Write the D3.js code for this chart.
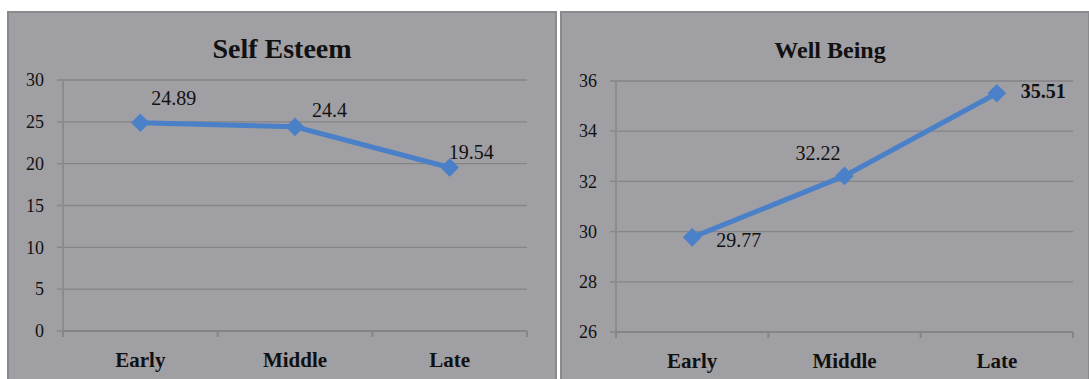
<!DOCTYPE html>
<html>
<head>
<meta charset="utf-8">
<script src="https://cdn.jsdelivr.net/npm/d3@7"></script>
<style>
  body { margin: 0; background: #fff; }
  text { font-family: "Liberation Serif", "Times New Roman", serif; fill: #111; }
</style>
</head>
<body>
<div id="chart"></div>
<script>
// Data
const stages = ["Early", "Middle", "Late"];
const selfEsteem = [24.89, 24.4, 19.54];
const wellBeing = [29.77, 32.22, 35.51];
const selfEsteemTicks = [0, 5, 10, 15, 20, 25, 30];
const wellBeingTicks = [26, 28, 30, 32, 34, 36];

const W = 1089, H = 379;
const svg = d3.select("#chart").append("svg")
  .attr("width", W).attr("height", H);

// one panel per chart
const panels = [
  {
    title: "Self Esteem", titleSize: 28, values: selfEsteem, ticks: selfEsteemTicks,
    box: [8, 12, 548], x0: 63, x1: 527, y0: 331, y1: 80, titleX: 282,
    labelDx: [11, 17, -1], labelDy: [-18, -10, -9], labelBold: [false, false, false]
  },
  {
    title: "Well Being", titleSize: 24, values: wellBeing, ticks: wellBeingTicks,
    box: [561, 12, 528], x0: 616, x1: 1073, y0: 332, y1: 81, titleX: 830,
    labelDx: [24, -49, 24], labelDy: [10, -16, 5], labelBold: [false, false, true]
  }
];

panels.forEach(p => {
  const g = svg.append("g");

  g.append("rect")
    .attr("x", p.box[0]).attr("y", p.box[1])
    .attr("width", p.box[2]).attr("height", H - p.box[1] + 5)
    .attr("fill", "#a09fa4")
    .attr("stroke", "#8a898d")
    .attr("stroke-width", 2);

  const x = d3.scaleBand().domain(stages).range([p.x0, p.x1]);
  const y = d3.scaleLinear()
    .domain(d3.extent(p.ticks))
    .range([p.y0, p.y1]);

  // gridlines
  g.selectAll(".grid")
    .data(p.ticks)
    .join("line")
      .attr("x1", p.x0 - 6).attr("x2", p.x1)
      .attr("y1", d => y(d)).attr("y2", d => y(d))
      .attr("stroke", "#858488")
      .attr("stroke-width", 1.3);

  // y axis
  const yAxis = g.append("g")
    .attr("transform", `translate(${p.x0},0)`)
    .call(d3.axisLeft(y).tickValues(p.ticks).tickSize(0).tickPadding(19));
  yAxis.select(".domain").attr("stroke", "#8c8b90").attr("stroke-width", 2)
    .attr("d", `M0,${p.y1}V${p.y0 + 6}`);
  yAxis.selectAll("text")
    .style("font-size", "18px")
    .style("font-family", "'Liberation Serif', serif")
    .attr("fill", "#222");

  // x axis
  const xAxis = g.append("g")
    .attr("transform", `translate(0,${p.y0})`)
    .call(d3.axisBottom(x).tickSize(0).tickPadding(21));
  xAxis.select(".domain").attr("stroke", "#858488").attr("stroke-width", 2)
    .attr("d", `M${p.x0},0H${p.x1}`);
  xAxis.selectAll("text")
    .style("font-size", "21px")
    .style("font-family", "'Liberation Serif', serif")
    .style("font-weight", "bold")
    .attr("fill", "#111");
  // category separators
  g.selectAll(".sep")
    .data(stages.map(s => x(s)).concat([p.x1]))
    .join("line")
      .attr("x1", d => d).attr("x2", d => d)
      .attr("y1", p.y0).attr("y2", p.y0 + 6)
      .attr("stroke", "#858488").attr("stroke-width", 2);

  // title
  g.append("text")
    .attr("x", p.titleX).attr("y", 58)
    .attr("text-anchor", "middle")
    .style("font-size", p.titleSize + "px")
    .style("font-weight", "bold")
    .text(p.title);

  const cx = d => x(d) + x.bandwidth() / 2;
  const line = d3.line()
    .x((d, i) => cx(stages[i]))
    .y(d => y(d));

  g.append("path")
    .datum(p.values)
    .attr("d", line)
    .attr("fill", "none")
    .attr("stroke", "#4a80c8")
    .attr("stroke-width", 5);

  g.selectAll(".marker")
    .data(p.values)
    .join("path")
      .attr("d", d3.symbol(d3.symbolDiamond2, 220)())
      .attr("transform", (d, i) => `translate(${cx(stages[i])},${y(d)})`)
      .attr("fill", "#4a80c8");

  g.selectAll(".lbl")
    .data(p.values)
    .join("text")
      .attr("x", (d, i) => cx(stages[i]) + p.labelDx[i])
      .attr("y", (d, i) => y(d) + p.labelDy[i])
      .style("font-size", "20px")
      .style("font-weight", (d, i) => p.labelBold[i] ? "bold" : "normal")
      .text(d => d);
});

// thin separator between the panels
svg.append("line")
  .attr("x1", 559).attr("x2", 559).attr("y1", 12).attr("y2", H)
  .attr("stroke", "#fff").attr("stroke-width", 1)
  .attr("stroke-dasharray", "2,1");
</script>
</body>
</html>
